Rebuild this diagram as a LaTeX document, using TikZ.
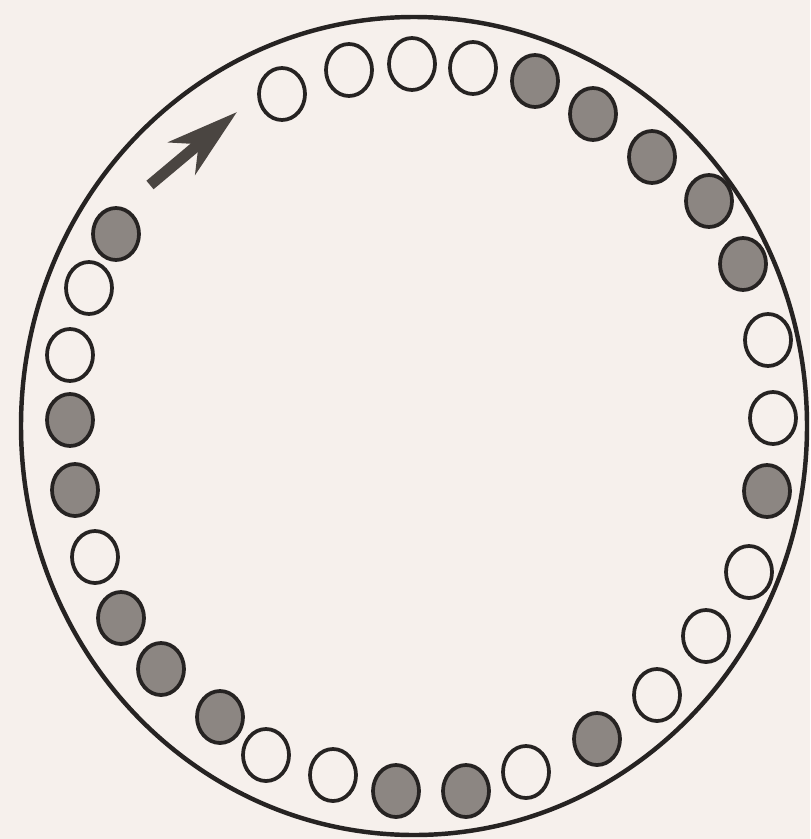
\documentclass[tikz,border=0pt]{standalone}
\usetikzlibrary{arrows.meta}
\definecolor{paper}{HTML}{F6F0EC}
\definecolor{ink}{HTML}{262322}
\definecolor{bead}{HTML}{8C8682}
\definecolor{pointer}{HTML}{4A4541}
\tikzset{
  rimline/.style={draw=ink,line width=3.8pt},
  litbead/.style={fill=paper,draw=ink,line width=3.2pt},
  darkbead/.style={fill=bead,draw=ink,line width=3.2pt},
}
\begin{document}
\begin{tikzpicture}[x=0.03cm,y=-0.03cm]
\fill[paper] (0,0) rectangle (810,839);
\useasboundingbox (0,0) rectangle (810,839);
\draw[rimline] (414,426) ellipse [x radius=393, y radius=409];
% beads, clockwise from the arrow
\filldraw[litbead] (282,94) ellipse [x radius=23, y radius=26];
\filldraw[litbead] (349,70) ellipse [x radius=23, y radius=26];
\filldraw[litbead] (412,64) ellipse [x radius=23, y radius=26];
\filldraw[litbead] (473,68) ellipse [x radius=23, y radius=26];
\filldraw[darkbead] (535,81) ellipse [x radius=23, y radius=26];
\filldraw[darkbead] (593,114) ellipse [x radius=23, y radius=26];
\filldraw[darkbead] (652,157) ellipse [x radius=23, y radius=26];
\filldraw[darkbead] (709,201) ellipse [x radius=23, y radius=26];
\filldraw[darkbead] (743,264) ellipse [x radius=23, y radius=26];
\filldraw[litbead] (768,340) ellipse [x radius=23, y radius=26];
\filldraw[litbead] (773,418) ellipse [x radius=23, y radius=26];
\filldraw[darkbead] (767,491) ellipse [x radius=23, y radius=26];
\filldraw[litbead] (749,572) ellipse [x radius=23, y radius=26];
\filldraw[litbead] (706,636) ellipse [x radius=23, y radius=26];
\filldraw[litbead] (657,695) ellipse [x radius=23, y radius=26];
\filldraw[darkbead] (597,739) ellipse [x radius=23, y radius=26];
\filldraw[litbead] (526,772) ellipse [x radius=23, y radius=26];
\filldraw[darkbead] (466,791) ellipse [x radius=23, y radius=26];
\filldraw[darkbead] (396,791) ellipse [x radius=23, y radius=26];
\filldraw[litbead] (333,775) ellipse [x radius=23, y radius=26];
\filldraw[litbead] (266,755) ellipse [x radius=23, y radius=26];
\filldraw[darkbead] (220,717) ellipse [x radius=23, y radius=26];
\filldraw[darkbead] (161,669) ellipse [x radius=23, y radius=26];
\filldraw[darkbead] (121,618) ellipse [x radius=23, y radius=26];
\filldraw[litbead] (95,557) ellipse [x radius=23, y radius=26];
\filldraw[darkbead] (75,490) ellipse [x radius=23, y radius=26];
\filldraw[darkbead] (70,420) ellipse [x radius=23, y radius=26];
\filldraw[litbead] (70,355) ellipse [x radius=23, y radius=26];
\filldraw[litbead] (89,288) ellipse [x radius=23, y radius=26];
\filldraw[darkbead] (116,234) ellipse [x radius=23, y radius=26];
% direction of travel
\coordinate (tail) at (150,185);
\coordinate (tip) at (237,112);
\draw[pointer,line width=9.5pt,
  -{Stealth[length=2.15cm,width=1.25cm,inset=0.65cm]}] (tail) -- (tip);
\end{tikzpicture}
\end{document}
